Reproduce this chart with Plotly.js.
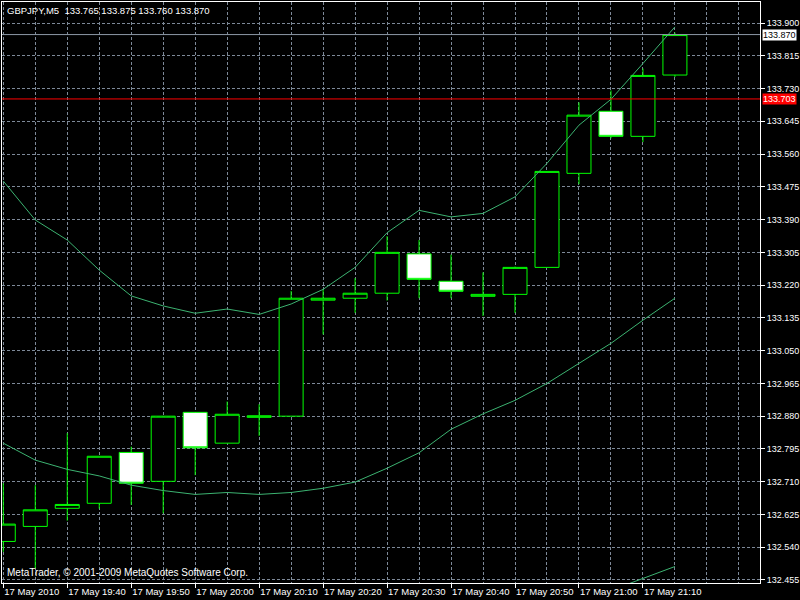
<!DOCTYPE html>
<html>
<head>
<meta charset="utf-8">
<script src="https://cdn.plot.ly/plotly-3.0.1.min.js"></script>
<style>
html,body{margin:0;padding:0;background:#000;}
#chart{width:800px;height:600px;}
</style>
</head>
<body>
<div id="chart"></div>
<script>
// ---- data (GBPJPY, M5, 17 May 2010) ----
const times = ['19:30','19:35','19:40','19:45','19:50','19:55','20:00','20:05','20:10','20:15','20:20',
               '20:25','20:30','20:35','20:40','20:45','20:50','20:55','21:00','21:05','21:10','21:15'];
const opens  = [132.555,132.594,132.641,132.654,132.786,132.711,132.890,132.810,132.877,132.880,133.181,
                133.186,133.199,133.301,133.230,133.191,133.196,133.266,133.510,133.671,133.606,133.765];
const highs  = [132.706,132.701,132.836,132.776,132.801,132.880,132.890,132.918,132.911,133.205,133.209,
                133.238,133.347,133.337,133.299,133.253,133.268,133.515,133.694,133.725,133.782,133.875];
const lows   = [132.528,132.485,132.609,132.640,132.650,132.628,132.727,132.810,132.829,132.880,133.092,
                133.148,133.180,133.186,133.186,133.140,133.148,133.266,133.482,133.601,133.591,133.760];
const closes = [132.600,132.637,132.651,132.776,132.706,132.880,132.798,132.885,132.881,133.186,133.186,
                133.199,133.305,133.235,133.204,133.196,133.266,133.515,133.661,133.606,133.764,133.870];
const upperBand  = [133.490,133.389,133.337,133.259,133.192,133.166,133.147,133.158,133.144,133.171,133.209,
                    133.266,133.356,133.414,133.397,133.406,133.449,133.536,133.635,133.702,133.795,133.890];
const middleBand = [132.810,132.766,132.742,132.725,132.701,132.687,132.677,132.682,132.677,132.682,132.693,
                    132.709,132.745,132.785,132.846,132.886,132.921,132.965,133.017,133.069,133.129,133.186];
const lowerBand  = [null,null,null,null,null,null,null,null,null,null,null,
                    null,null,null,null,null,null,null,null,132.428,132.459,132.490];
const tickLabels = ['17 May 2010','17 May 19:40','17 May 19:50','17 May 20:00','17 May 20:10','17 May 20:20',
                    '17 May 20:30','17 May 20:40','17 May 20:50','17 May 21:00','17 May 21:10'];
const bidPrice = 133.870;
const levelPrice = 133.703;
const headerText = 'GBPJPY,M5  133.765 133.875 133.760 133.870';
const copyrightText = 'MetaTrader, © 2001-2009 MetaQuotes Software Corp.';

// ---- build ----
const xs = times.map((t, i) => i);
const tickVals = tickLabels.map((t, i) => i * 2);

const FONT = 'Tahoma, "Liberation Sans", Arial, sans-serif';
const GRID = '#7d8998';
const LINE = '#3cb371';

const bandTrace = (vals) => ({
  type: 'scatter', mode: 'lines', x: xs, y: vals,
  line: {color: LINE, width: 1}, hoverinfo: 'skip', showlegend: false, connectgaps: false
});

const traces = [
  bandTrace(upperBand),
  bandTrace(middleBand),
  bandTrace(lowerBand),
  {
    type: 'candlestick', x: xs, open: opens, high: highs, low: lows, close: closes,
    increasing: {line: {color: '#00ff00', width: 1}, fillcolor: '#000000'},
    decreasing: {line: {color: '#00ff00', width: 1}, fillcolor: '#ffffff'},
    whiskerwidth: 0, showlegend: false
  }
];

const layout = {
  width: 800, height: 600,
  paper_bgcolor: '#000000', plot_bgcolor: '#000000',
  margin: {l: 2, r: 40, t: 2, b: 17},
  font: {family: FONT, color: '#ffffff', size: 9.5},
  showlegend: false,
  boxgap: 0.25, boxgroupgap: 0,
  title: {text: headerText, x: 7/800, xanchor: 'left', xref: 'container',
          y: 1 - 11/600, yanchor: 'middle', yref: 'container',
          font: {family: FONT, color: '#ffffff', size: 9.5}},
  xaxis: {
    type: 'linear', range: [-0.04, 23.66],
    tickmode: 'array', tickvals: tickVals, ticktext: tickLabels,
    ticks: 'outside', ticklen: 4, tickcolor: '#ffffff', tickwidth: 1,
    tickangle: 0, ticklabelposition: 'outside right',
    tickfont: {family: FONT, color: '#ffffff', size: 9.5},
    showline: true, linecolor: '#ffffff', linewidth: 1, mirror: true,
    showgrid: true, gridcolor: GRID, gridwidth: 1, griddash: '3px,2px',
    minor: {tickmode: 'linear', tick0: 0, dtick: 1, showgrid: true, gridcolor: GRID,
            gridwidth: 1, griddash: '3px,2px', ticks: ''},
    zeroline: false, rangeslider: {visible: false}, fixedrange: true
  },
  yaxis: {
    side: 'right', range: [132.4472, 133.9545],
    tickmode: 'linear', tick0: 132.455, dtick: 0.085, tickformat: '.3f',
    ticks: 'outside', ticklen: 4, tickcolor: '#ffffff', tickwidth: 1,
    tickfont: {family: FONT, color: '#ffffff', size: 9},
    showline: true, linecolor: '#ffffff', linewidth: 1, mirror: true,
    showgrid: true, gridcolor: GRID, gridwidth: 1, griddash: '3px,2px',
    zeroline: false, fixedrange: true
  },
  shapes: [
    {type: 'line', xref: 'paper', x0: 0, x1: 1, yref: 'y', y0: bidPrice, y1: bidPrice,
     line: {color: '#8c98a6', width: 1}},
    {type: 'line', xref: 'paper', x0: 0, x1: 1, yref: 'y', y0: levelPrice, y1: levelPrice,
     line: {color: '#ff0000', width: 1}}
  ],
  annotations: [
    {xref: 'paper', x: 1, xanchor: 'left', xshift: 2, yref: 'y', y: bidPrice, yanchor: 'middle',
     text: bidPrice.toFixed(3), showarrow: false, bgcolor: '#ffffff', borderpad: 0,
     font: {family: FONT, color: '#000000', size: 9}},
    {xref: 'paper', x: 1, xanchor: 'left', xshift: 2, yref: 'y', y: levelPrice, yanchor: 'middle',
     text: levelPrice.toFixed(3), showarrow: false, bgcolor: '#ff0000', borderpad: 0,
     font: {family: FONT, color: '#ffffff', size: 9}},
    {xref: 'paper', x: 0, xanchor: 'left', xshift: 3, yref: 'paper', y: 0, yanchor: 'bottom', yshift: 3,
     text: copyrightText, showarrow: false,
     font: {family: FONT, color: '#ffffff', size: 10}}
  ]
};

Plotly.newPlot('chart', traces, layout, {staticPlot: true, displayModeBar: false});
</script>
</body>
</html>
